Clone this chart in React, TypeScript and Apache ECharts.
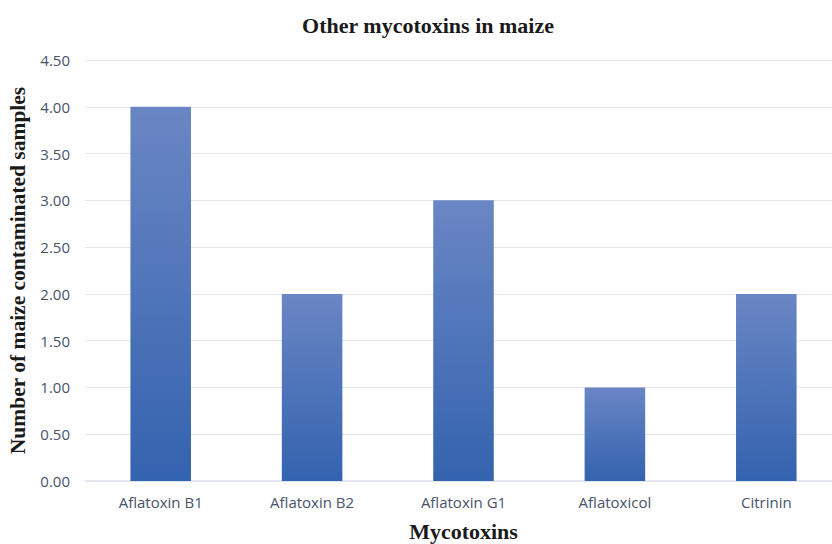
import React, { useEffect, useRef } from "react";
import * as echarts from "echarts";

const categories = ["Aflatoxin B1", "Aflatoxin B2", "Aflatoxin G1", "Aflatoxicol", "Citrinin"];
const values = [4, 2, 3, 1, 2];
const titleText = "Other mycotoxins in maize";
const yAxisName = "Number of maize contaminated samples";
const xAxisName = "Mycotoxins";

export default function App() {
  const ref = useRef<HTMLDivElement>(null);
  useEffect(() => {
    if (!ref.current) return;
    const chart = echarts.init(ref.current, null, { renderer: "svg" });
    chart.setOption({
      animation: false,
      backgroundColor: "#ffffff",
      title: {
        text: titleText,
        left: 423,
        top: 9,
        textAlign: "center",
        textStyle: {
          fontFamily: "Liberation Serif",
          fontWeight: "bold",
          fontSize: 22,
          color: "#1a1a1a",
        },
      },
      grid: {
        left: 85,
        right: -10,
        top: 60,
        bottom: 63,
        containLabel: false,
        outerBoundsMode: "none",
      },
      xAxis: {
        type: "category",
        data: categories,
        name: xAxisName,
        nameLocation: "middle",
        nameGap: 39,
        nameTextStyle: {
          fontFamily: "Liberation Serif",
          fontWeight: "bold",
          fontSize: 22,
          color: "#1a1a1a",
        },
        axisLine: { lineStyle: { color: "#dfe4ea", width: 1.5 } },
        axisTick: { show: false },
        axisLabel: {
          fontFamily: "Open Sans",
          fontSize: 15,
          color: "#46536a",
          margin: 13,
        },
      },
      yAxis: {
        type: "value",
        min: 0,
        max: 4.5,
        interval: 0.5,
        name: yAxisName,
        nameLocation: "middle",
        nameGap: 52,
        nameTextStyle: {
          fontFamily: "Liberation Serif",
          fontWeight: "bold",
          fontSize: 21.5,
          color: "#1a1a1a",
        },
        axisLine: { show: false },
        axisTick: { show: false },
        splitLine: { lineStyle: { color: "#e3e7ed", width: 1.2 } },
        axisLabel: {
          fontFamily: "Open Sans",
          fontSize: 15,
          color: "#46536a",
          margin: 15,
          formatter: (v: number) => v.toFixed(2),
        },
      },
      series: [
        {
          type: "bar",
          data: values,
          barWidth: "40%",
          itemStyle: {
            color: new echarts.graphic.LinearGradient(0, 0, 0, 1, [
              { offset: 0, color: "#6a86c4" },
              { offset: 1, color: "#3463af" },
            ]),
          },
        },
      ],
    });
    return () => chart.dispose();
  }, []);
  return (
    <div
      ref={ref}
      style={{ position: "absolute", left: 0, top: 0, width: 832, height: 544 }}
    />
  );
}
